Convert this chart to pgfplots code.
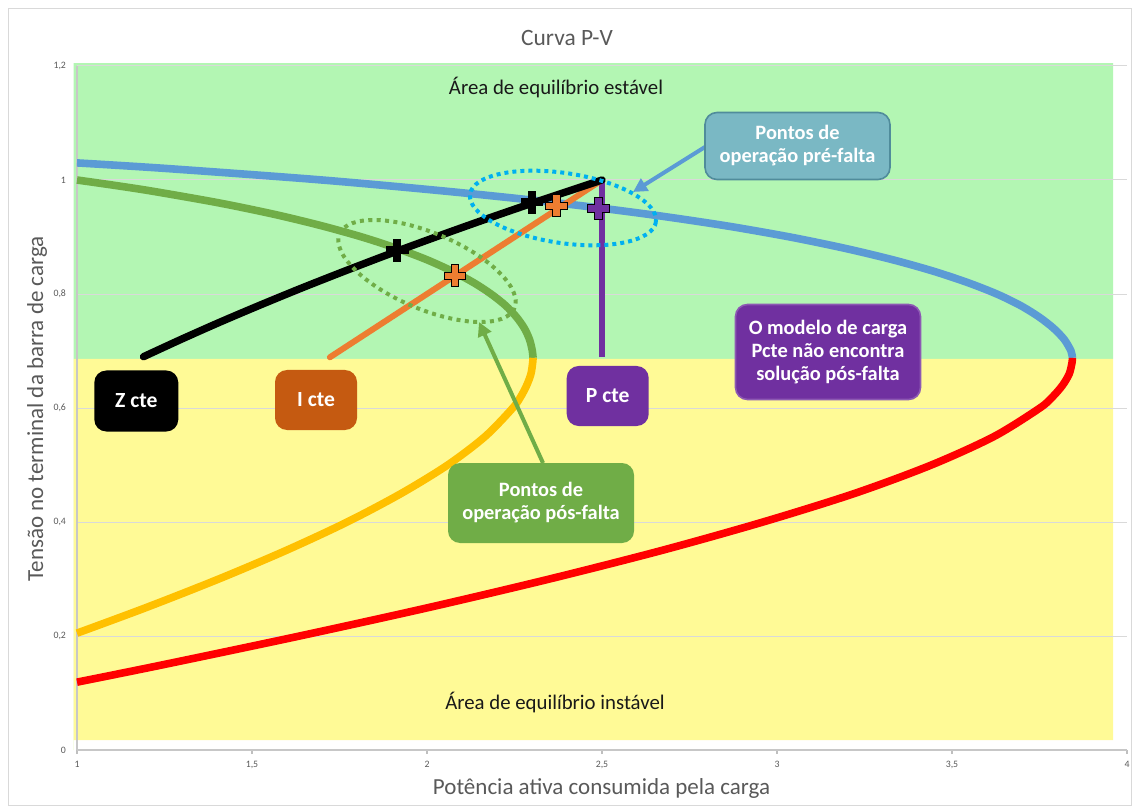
\documentclass[border=0pt]{standalone}
\usepackage{pgfplots}
\pgfplotsset{compat=1.18}
\usepackage{fontspec}
\setmainfont{Carlito}
\usetikzlibrary{arrows.meta}

\definecolor{bgverde}{RGB}{179,246,179}
\definecolor{bgamarelo}{RGB}{255,250,150}
\definecolor{azul}{RGB}{91,155,213}
\definecolor{vermelho}{RGB}{255,0,0}
\definecolor{verde}{RGB}{112,173,71}
\definecolor{ouro}{RGB}{255,192,0}
\definecolor{laranja}{RGB}{237,125,49}
\definecolor{roxo}{RGB}{112,48,160}
\definecolor{marrom}{RGB}{197,90,17}
\definecolor{azulbox}{RGB}{122,184,196}
\definecolor{azulborda}{RGB}{80,140,155}
\definecolor{ciano}{RGB}{0,176,240}
\definecolor{cinza}{RGB}{89,89,89}

% cruz cheia para os pontos de operacao
\pgfdeclareplotmark{fatplus}{%
  \pgfpathmoveto{\pgfqpoint{-1.8pt}{5.4pt}}%
  \pgfpathlineto{\pgfqpoint{1.8pt}{5.4pt}}%
  \pgfpathlineto{\pgfqpoint{1.8pt}{1.8pt}}%
  \pgfpathlineto{\pgfqpoint{5.4pt}{1.8pt}}%
  \pgfpathlineto{\pgfqpoint{5.4pt}{-1.8pt}}%
  \pgfpathlineto{\pgfqpoint{1.8pt}{-1.8pt}}%
  \pgfpathlineto{\pgfqpoint{1.8pt}{-5.4pt}}%
  \pgfpathlineto{\pgfqpoint{-1.8pt}{-5.4pt}}%
  \pgfpathlineto{\pgfqpoint{-1.8pt}{-1.8pt}}%
  \pgfpathlineto{\pgfqpoint{-5.4pt}{-1.8pt}}%
  \pgfpathlineto{\pgfqpoint{-5.4pt}{1.8pt}}%
  \pgfpathlineto{\pgfqpoint{-1.8pt}{1.8pt}}%
  \pgfpathclose
  \pgfusepathqfillstroke}

\pgfplotsset{base/.style={
    at={(38.5pt,-375pt)}, anchor=south west,
    scale only axis, width=525pt, height=342pt,
    xmin=1, xmax=4, ymin=0, ymax=1.2, clip=false}}

\begin{document}
\begin{tikzpicture}
  \begin{axis}[
    base,
    xtick={1,1.5,2,2.5,3,3.5,4},
    ytick={0,0.2,0.4,0.6,0.8,1,1.2},
    xticklabels={1,{1,5},2,{2,5},3,{3,5},4},
    yticklabels={0,{0,2},{0,4},{0,6},{0,8},1,{1,2}},
    axis x line*=bottom, axis y line*=left,
    axis line style={draw=black!22, line width=0.6pt, -},
    tick align=outside, major tick length=2pt,
    xtick style={draw=black!25, line width=0.6pt},
    ytick style={draw=none},
    ymajorgrids=true,
    grid style={draw=black!15, line width=0.5pt},
    tick label style={font=\fontsize{4.9}{6}\selectfont, text=cinza},
    /pgf/number format/assume math mode=true,
    set layers,
  ]
    % areas de fundo
    \addplot[on layer=axis background, draw=none, fill=bgverde]
      coordinates {(0.99,0.686) (3.96,0.686) (3.96,1.205) (0.99,1.205)} \closedcycle;
    \addplot[on layer=axis background, draw=none, fill=bgamarelo]
      coordinates {(0.99,0.0175) (3.96,0.0175) (3.96,0.686) (0.99,0.686)} \closedcycle;

    % curva P-V pre-falta
    \addplot[azul, line width=3.8pt, smooth] coordinates {
      (1.00,1.03) (1.26,1.02) (1.70,1.00) (2.06,0.98) (2.37,0.96) (2.63,0.94)
      (2.851,0.92) (3.037,0.90) (3.195,0.88) (3.331,0.86) (3.447,0.84)
      (3.545,0.82) (3.628,0.80) (3.695,0.78) (3.748,0.76) (3.790,0.74)
      (3.821,0.72) (3.840,0.70) (3.844,0.688)};
    \addplot[vermelho, line width=3.8pt, smooth] coordinates {
      (3.844,0.688) (3.843,0.68) (3.835,0.66) (3.816,0.64) (3.788,0.62)
      (3.751,0.60) (3.62,0.55) (3.441,0.50) (3.221,0.45) (2.96,0.40) (2.67,0.35)
      (2.35,0.30) (2.005,0.25) (1.636,0.20) (1.249,0.15) (1.00,0.119)};
    % curva P-V pos-falta
    \addplot[verde, line width=3.8pt, smooth] coordinates {
      (1.00,1.00) (1.114,0.99) (1.219,0.98) (1.404,0.96) (1.562,0.94)
      (1.697,0.92) (1.814,0.90) (1.914,0.88) (2.00,0.86) (2.072,0.84)
      (2.133,0.82) (2.183,0.80) (2.224,0.78) (2.255,0.76) (2.278,0.74)
      (2.293,0.72) (2.301,0.70) (2.303,0.688)};
    \addplot[ouro, line width=3.8pt, smooth] coordinates {
      (2.303,0.688) (2.302,0.68) (2.297,0.66) (2.285,0.64) (2.268,0.62)
      (2.245,0.60) (2.166,0.55) (2.059,0.50) (1.926,0.45) (1.772,0.40)
      (1.597,0.35) (1.405,0.30) (1.198,0.25) (1.00,0.205)};

    % modelos de carga
    \addplot[roxo, line width=3pt] coordinates {(2.5,0.689) (2.5,1.0)};
    \addplot[laranja, line width=3pt, line cap=round] coordinates {(1.7225,0.689) (2.5,1.0)};
    \addplot[black, line width=3.7pt, line cap=round, smooth] coordinates {
      (1.19,0.69) (1.296,0.72) (1.406,0.75) (1.521,0.78) (1.640,0.81)
      (1.764,0.84) (1.892,0.87) (2.025,0.90) (2.162,0.93) (2.304,0.96) (2.5,1.0)};
  \end{axis}

  \begin{scope}[x=0.5pt,y=-0.5pt]
    % elipses e setas
    \draw[ciano, line width=2pt, dash pattern=on 2pt off 2pt]
      [rotate around={-8.5:(563,208)}] (563,208) ellipse [x radius=94, y radius=35];
    \draw[verde, line width=2pt, dash pattern=on 2pt off 2.2pt]
      [rotate around={-23:(427,271)}] (427,271) ellipse [x radius=95, y radius=38];
    \draw[azul, line width=2pt, -{Triangle[length=7pt,width=7pt]}] (705,147) -- (633,192);
    \draw[verde, line width=2pt, -{Triangle[length=7pt,width=7pt]}] (543,463) -- (479,322);
  \end{scope}

  % pontos de operacao
  \begin{axis}[base, hide axis]
    \addplot[only marks, mark=fatplus, mark options={fill=black, draw=black, line width=0.4pt}]
      coordinates {(1.915,0.877) (2.30,0.961)};
    \addplot[only marks, mark=fatplus, mark options={fill=laranja, draw=black, line width=0.5pt}]
      coordinates {(2.08,0.832) (2.37,0.955)};
    \addplot[only marks, mark=fatplus, mark options={fill=roxo, draw=black, line width=0.5pt}]
      coordinates {(2.49,0.95)};
  \end{axis}

  \begin{scope}[x=0.5pt,y=-0.5pt]
    % caixas de texto
    \tikzset{caixa/.style={rounded corners=6pt, text=white, align=center,
        font=\fontsize{10.2}{11.5}\selectfont\bfseries, inner sep=0pt}}
    \node[caixa, fill=azulbox, draw=azulborda, line width=0.8pt,
      minimum width=92.5pt, minimum height=33.5pt] at (797.5,146)
      {Pontos de\\operação pré-falta};
    \node[caixa, fill=roxo, draw=roxo!80!white, line width=0.8pt,
      minimum width=92.5pt, minimum height=47.5pt] at (828,352)
      {O modelo de carga\\Pcte não encontra\\solução pós-falta};
    \node[caixa, fill=black, minimum width=42pt, minimum height=30.5pt,
      font=\fontsize{10.8}{12}\selectfont\bfseries] at (136.3,401) {Z cte};
    \node[caixa, fill=marrom, minimum width=41pt, minimum height=30pt,
      font=\fontsize{10.8}{12}\selectfont\bfseries] at (316,400) {I cte};
    \node[caixa, fill=roxo, minimum width=41pt, minimum height=30pt,
      font=\fontsize{10.8}{12}\selectfont\bfseries] at (607.7,396) {P cte};
    \node[caixa, fill=verde, minimum width=93pt, minimum height=40pt] at (541,503)
      {Pontos de\\operação pós-falta};

    \node[font=\fontsize{10.4}{12}\selectfont, text=black!90] at (556,87) {Área de equilíbrio estável};
    \node[font=\fontsize{10.4}{12}\selectfont, text=black!90] at (555,702) {Área de equilíbrio instável};

    % titulo e rotulos
    \node[font=\fontsize{11.7}{14}\selectfont, text=cinza] at (567,38) {Curva P-V};
    \node[font=\fontsize{11.5}{13}\selectfont, text=cinza] at (601.5,788) {Potência ativa consumida pela carga};
    \node[font=\fontsize{11.5}{13}\selectfont, text=cinza, rotate=90] at (37,409) {Tensão no terminal da barra de carga};

    \draw[black!15, line width=0.5pt] (8,9) rectangle (1131,805);
    \pgfresetboundingbox
    \path (0,0) rectangle (1134,807);
  \end{scope}
\end{tikzpicture}
\end{document}
